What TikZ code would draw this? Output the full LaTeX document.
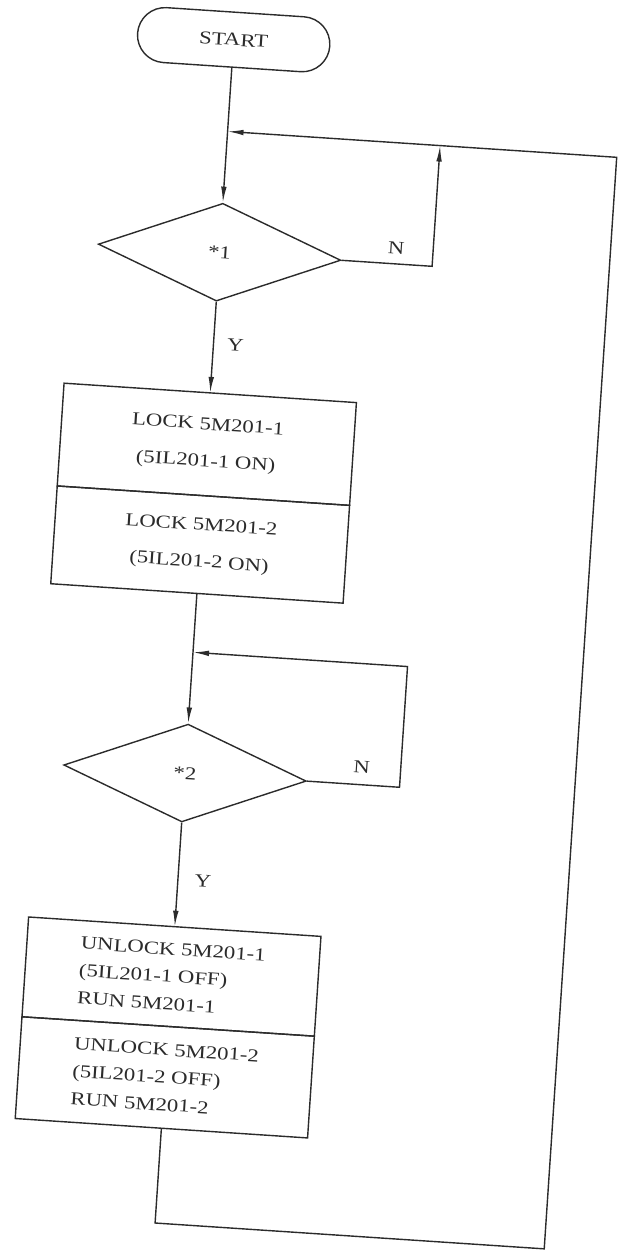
\documentclass[tikz,border=0pt]{standalone}
\usepackage{fontspec}
\newfontfamily\cadfont[FakeStretch=1.25]{Liberation Serif}
\definecolor{mInk}{HTML}{2B2B2B}
\usetikzlibrary{positioning,arrows.meta,shapes.geometric,shapes.misc}
\tikzset{
 cad/.style={font=\cadfont\fontsize{9.1}{11}\selectfont, text=mInk},
 termbox/.style={cad, draw=mInk, line width=0.7pt, rounded rectangle, minimum width=103pt, minimum height=27.5pt},
 askbox/.style={cad, draw=mInk, line width=0.7pt, diamond, minimum width=121.5pt, minimum height=49pt, inner sep=0pt},
 lockbox/.style={draw=mInk, line width=0.7pt, outer sep=0pt, text=mInk, minimum width=146.5pt, align=center, font=\cadfont\fontsize{9.1}{18.5}\selectfont},
 runbox/.style={draw=mInk, line width=0.7pt, outer sep=0pt, text=mInk, minimum width=146.5pt, align=left, font=\cadfont\fontsize{9.1}{13.8}\selectfont},
 lbl/.style={cad, inner sep=1pt},
 flow/.style={draw=mInk, line width=0.7pt, -{Latex[length=8pt,width=2.8pt]}},
 wire/.style={draw=mInk, line width=0.7pt}
}

\begin{document}
\begin{tikzpicture}[x=0.5pt, y=-0.5pt]
\useasboundingbox (0,0) rectangle (620,1253);
% scanned sheet sits slightly askew
\begin{scope}[rotate around={-3.8:(310,626)}, transform shape]
\node[termbox] (start) at (195,46) {START};
\node[askbox] (d1) at (195,259) {*1};
\node[lockbox, minimum height=51.5pt] (lock1) at (195,451.5) {LOCK 5M201-1\\(5IL201-1 ON)};
\node[lockbox, minimum height=49pt, below=0pt of lock1] (lock2) {LOCK 5M201-2\\(5IL201-2 ON)};
\node[askbox] (d2) at (195,781) {*2};
\node[runbox, minimum height=50pt] (run1) at (195,985) {UNLOCK 5M201-1\\(5IL201-1 OFF)\\RUN 5M201-1};
\node[runbox, minimum height=51pt, below=0pt of run1] (run2) {UNLOCK 5M201-2\\(5IL201-2 OFF)\\RUN 5M201-2};

\coordinate (j1) at (195,138);
\coordinate (n1) at (408,138);
\coordinate (j2) at (195,660);
\coordinate (n2) at (410,660);
\coordinate (br) at (585,1232);

% main line
\draw[flow] (start) -- (d1);
\draw[flow] (d1) -- (lock1);
\draw[flow] (lock2) -- (d2);
\draw[flow] (d2) -- (run1);
\node[lbl] (y1) at (217,351) {Y};
\node[lbl] (y2) at (220,888) {Y};

% N loops
\draw[flow] (d1.east) -| (n1);
\node[lbl] (no1) at (371,243) {N};
\draw[flow] (d2.east) -| (n2) -- (j2);
\node[lbl] (no2) at (371,763) {N};

% back to the top
\draw[flow] (run2.south) |- (br) |- (j1);
\end{scope}
\end{tikzpicture}
\end{document}
